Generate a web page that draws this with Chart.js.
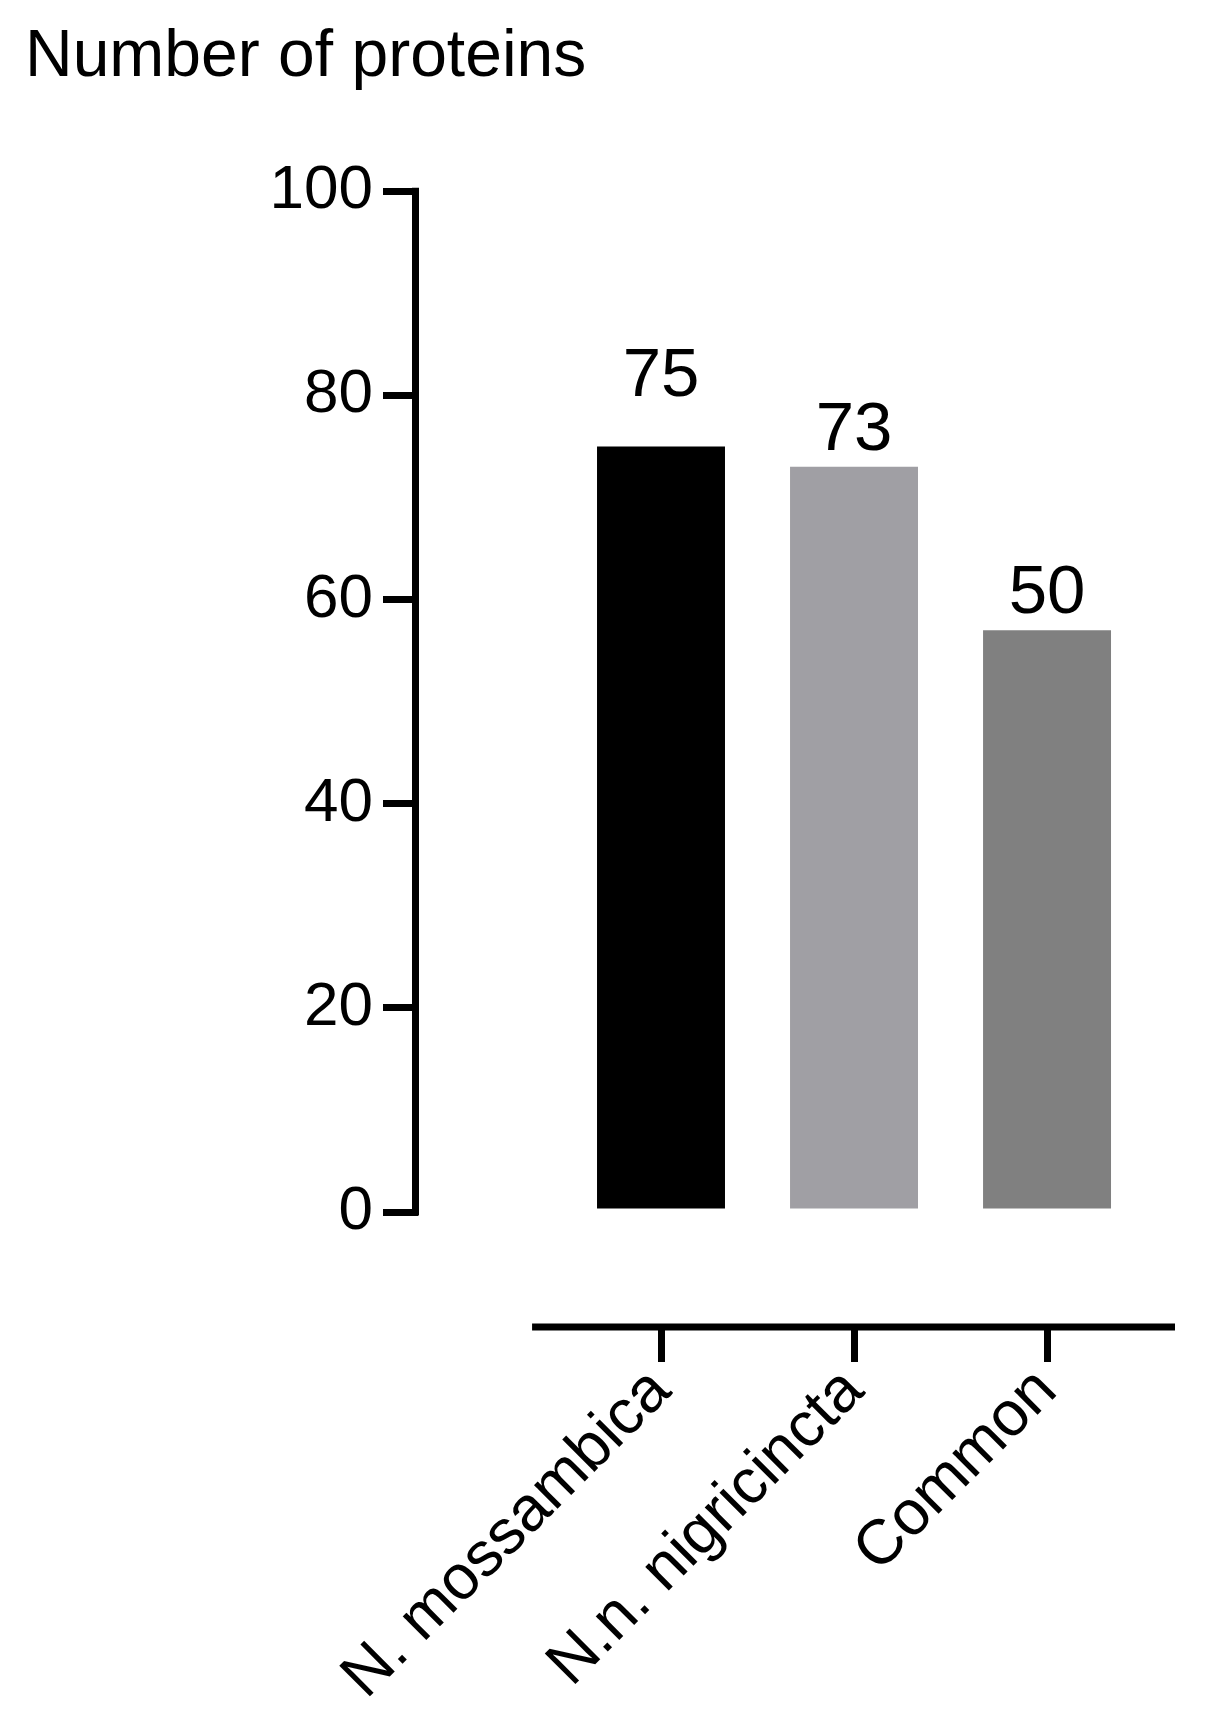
<!DOCTYPE html>
<html>
<head>
<meta charset="utf-8">
<script src="https://cdn.jsdelivr.net/npm/chart.js@4/dist/chart.umd.min.js"></script>
<style>
    html, body { margin: 0; padding: 0; background: #fff; }
    #wrap { width: 1221px; height: 1725px; }
</style>
</head>
<body>
<div id="wrap"><canvas id="proteinChart"></canvas></div>
<script>
// Data
const categories = ['N. mossambica', 'N.n. nigricincta', 'Common'];
const proteinCounts = [75, 73, 57];
const valueLabels = ['75', '73', '50'];
const yTicks = [0, 20, 40, 60, 80, 100];
const barColors = ['#000000', '#a09fa4', '#808080'];

const FONT = '"Liberation Sans", Arial, Helvetica, sans-serif';

// Prism style axes: y line only from 0 to 100, x line offset below
const prismAxes = {
    id: 'prismAxes',
    afterDraw(chart, args, opts) {
        const ctx = chart.ctx;
        const x = chart.scales.x;
        const y = chart.scales.y;
        ctx.save();
        ctx.strokeStyle = '#000';
        ctx.lineWidth = opts.width;
        ctx.lineCap = 'butt';
        // y axis
        const yx = x.left - opts.width / 2 + 1;
        ctx.beginPath();
        ctx.moveTo(yx, y.getPixelForValue(yTicks[0]) + opts.width / 2);
        ctx.lineTo(yx, y.getPixelForValue(yTicks[yTicks.length - 1]) - opts.width / 2);
        ctx.stroke();
        // x axis
        ctx.beginPath();
        ctx.moveTo(x.getPixelForValue(opts.xStart), y.bottom);
        ctx.lineTo(x.right, y.bottom);
        ctx.stroke();
        ctx.restore();
    }
};

// Numbers written above each bar
const barValueLabels = {
    id: 'barValueLabels',
    afterDatasetsDraw(chart, args, opts) {
        const ctx = chart.ctx;
        const meta = chart.getDatasetMeta(0);
        ctx.save();
        ctx.fillStyle = '#000';
        ctx.font = opts.size + 'px ' + FONT;
        ctx.textAlign = 'center';
        ctx.textBaseline = 'alphabetic';
        meta.data.forEach((bar, i) => {
            const lift = opts.gap + (opts.extraLift[i] || 0);
            ctx.fillText(valueLabels[i], bar.x, bar.y - lift);
        });
        ctx.restore();
    }
};

const ctx = document.getElementById('proteinChart');
new Chart(ctx, {
    type: 'bar',
    data: {
        datasets: [{
            data: categories.map((c, i) => ({ x: i, y: proteinCounts[i] })),
            backgroundColor: barColors,
            borderWidth: 0,
            categoryPercentage: 1,
            barPercentage: 0.663
        }]
    },
    options: {
        responsive: true,
        maintainAspectRatio: false,
        animation: false,
        layout: {
            padding: { left: 25, right: 46, top: 0, bottom: 0 }
        },
        plugins: {
            legend: { display: false },
            tooltip: { enabled: false },
            title: {
                display: true,
                text: 'Number of proteins',
                align: 'start',
                color: '#000',
                font: { family: FONT, size: 66, weight: 'normal', lineHeight: 1.2 },
                padding: { top: 18, bottom: 94 }
            },
            prismAxes: { width: 7, xStart: -0.668 },
            barValueLabels: { size: 69, gap: 17, extraLift: [33, 0, 0] }
        },
        scales: {
            x: {
                type: 'linear',
                offset: false,
                min: -1.259,
                max: 2.663,
                afterBuildTicks: scale => {
                    scale.ticks = categories.map((c, i) => ({ value: i }));
                },
                afterFit: scale => { scale.height = 398; },
                border: { display: false },
                grid: {
                    offset: false,
                    drawOnChartArea: false,
                    drawTicks: true,
                    tickLength: 35,
                    lineWidth: 7,
                    color: '#000'
                },
                ticks: {
                    autoSkip: false,
                    minRotation: 45,
                    maxRotation: 45,
                    padding: -8,
                    color: '#000',
                    font: { family: FONT, size: 63 },
                    callback: v => categories[v]
                }
            },
            y: {
                type: 'linear',
                min: -11.26,
                max: 100,
                afterBuildTicks: scale => {
                    scale.ticks = yTicks.map(v => ({ value: v }));
                },
                afterFit: scale => { scale.width = 393; },
                border: { display: false },
                grid: {
                    drawOnChartArea: false,
                    drawTicks: true,
                    tickLength: 35,
                    lineWidth: 7,
                    color: '#000'
                },
                ticks: {
                    padding: 10,
                    color: '#000',
                    font: { family: FONT, size: 62 }
                }
            }
        }
    },
    plugins: [prismAxes, barValueLabels]
});
</script>
</body>
</html>
